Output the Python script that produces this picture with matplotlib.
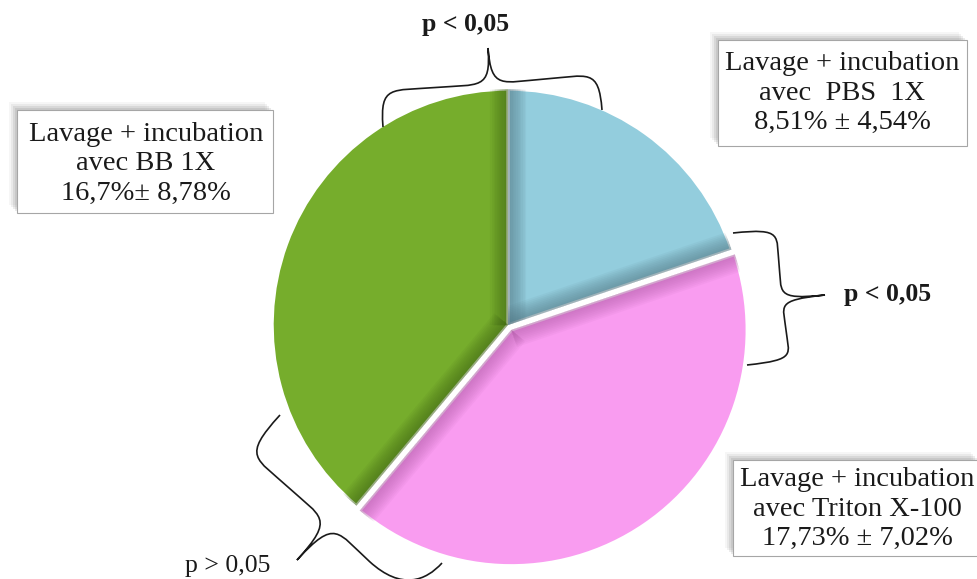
import numpy as np
import matplotlib
matplotlib.use("Agg")
import matplotlib.pyplot as plt
from matplotlib.path import Path
from matplotlib.patches import PathPatch, Rectangle

# mean value of each treatment (%) and its spread
groups = ["PBS 1X", "Triton X-100", "BB 1X"]
means = [8.51, 17.73, 16.7]
labels = ["Lavage + incubation\navec  PBS  1X\n8,51% \u00b1 4,54%",
          "Lavage + incubation\navec Triton X-100\n17,73% \u00b1 7,02%",
          "Lavage + incubation\navec BB 1X\n16,7%\u00b1 8,78%"]
colors = ["#93CDDD", "#F99CF0", "#76AD2C"]
shade = ["#4F7380", "#B05AA6", "#3E6414"]
explode = [0.0, 0.025, 0.0]
p_texts = ["p < 0,05", "p < 0,05", "p > 0,05"]

W, H = 978, 579
fig = plt.figure(figsize=(W / 100, H / 100), dpi=100)

# pie in its own square axes: centre (508, 325) px, radius 236 px
cx, cy, r = 508, 325, 236
pax = fig.add_axes([(cx - 1.05 * r) / W, (H - cy - 1.05 * r) / H,
                    2.1 * r / W, 2.1 * r / H])
wedges, _ = pax.pie(means, colors=colors, startangle=90, counterclock=False,
                    explode=explode, radius=1.0,
                    wedgeprops=dict(edgecolor="white", linewidth=2.5))
pax.set_xlim(-1.05, 1.05)
pax.set_ylim(-1.05, 1.05)

# darker inner edges along the radial cuts (soft gradient)
for w, sc in zip(wedges, shade):
    c = np.array(w.center)
    for th in (w.theta1, w.theta2):
        t = np.deg2rad(th)
        p = c + w.r * np.array([np.cos(t), np.sin(t)])
        for lw in np.linspace(26, 4, 10):
            ln, = pax.plot([c[0], p[0]], [c[1], p[1]], color=sc, lw=lw,
                           alpha=0.07, solid_capstyle="butt")
            ln.set_clip_path(w)

# overlay in pixel coordinates for boxes, braces and p values
ax = fig.add_axes([0, 0, 1, 1], zorder=5)
ax.set_xlim(0, W)
ax.set_ylim(H, 0)
ax.axis("off")
ax.patch.set_alpha(0)

serif = "Liberation Serif"


def label_box(x0, y0, x1, y1, text, tx, ty):
    for k, al in ((8, 0.05), (6, 0.08), (4, 0.11), (2, 0.12)):
        ax.add_patch(Rectangle((x0 - k, y0 - k), x1 - x0, y1 - y0,
                               facecolor="#555555", alpha=al, lw=0))
    ax.add_patch(Rectangle((x0, y0), x1 - x0, y1 - y0, facecolor="white",
                           edgecolor="#A6A6A6", lw=0.8))
    ax.text(tx, ty, text, family=serif, fontsize=20.5, ha="center",
            va="center", linespacing=1.22, color="#1a1a1a")


def brace(a, b, tip, e1=0.6, e2=0.6, lw=1.2):
    a = np.asarray(a, float)
    b = np.asarray(b, float)
    tip = np.asarray(tip, float)
    d = b - a
    L = np.hypot(*d)
    u = d / L
    n = np.array([-u[1], u[0]])
    s = np.dot(tip - a, u)
    h = np.dot(tip - a, n)
    q = L - s
    loc = [(0, 0),
           (0, e1 * h), (0.1 * s, 0.5 * h), (0.5 * s, 0.5 * h),
           (0.9 * s, 0.5 * h), (s, 0.4 * h), (s, h),
           (s, 0.4 * h), (s + 0.1 * q, 0.5 * h), (s + 0.5 * q, 0.5 * h),
           (s + 0.9 * q, 0.5 * h), (L, e2 * h), (L, 0)]
    pts = [a + u * x + n * v for x, v in loc]
    codes = [Path.MOVETO] + [Path.CURVE4] * 12
    ax.add_patch(PathPatch(Path(pts, codes), facecolor="none",
                           edgecolor="#1a1a1a", lw=lw))


label_box(718, 40, 967, 146, labels[0], 842, 93)
label_box(733, 460, 979, 556, labels[1], 857, 509)
label_box(17, 110, 273, 213, labels[2], 146, 164)

brace((383, 127), (602, 110), (488, 48))
brace((733, 233), (747, 365), (825, 295))
brace((280, 415), (442, 563), (297, 560), e1=0.6, e2=0.25)

ax.text(466, 24, p_texts[0], family=serif, fontsize=18.5, weight="bold",
        ha="center", va="center", color="#1a1a1a")
ax.text(888, 295, p_texts[1], family=serif, fontsize=18.5, weight="bold",
        ha="center", va="center", color="#1a1a1a")
ax.text(228, 566, p_texts[2], family=serif, fontsize=18.5,
        ha="center", va="center", color="#1a1a1a")

fig.savefig("out.png", dpi=100)
